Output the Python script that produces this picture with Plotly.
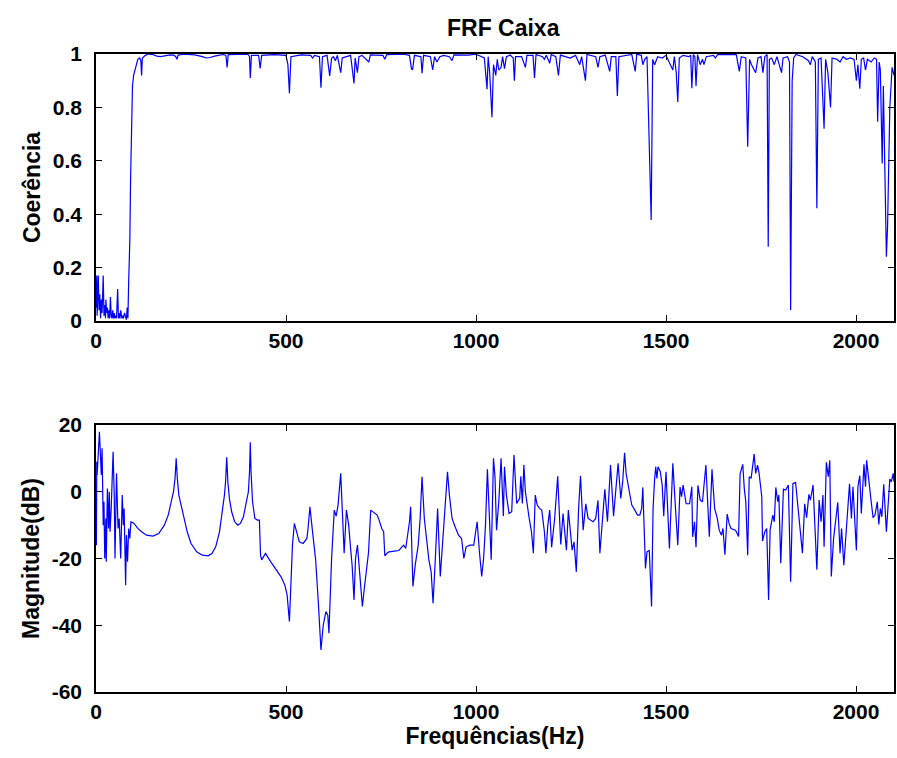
import plotly.graph_objects as go
from plotly.subplots import make_subplots

# ---- Coherence (top) ----
coh_freq = [0, 2, 3, 5, 6, 8, 10, 12, 14, 16, 19, 21, 23, 25, 26, 28, 30, 32, 34, 36, 38, 40, 42, 44, 46, 48, 50, 52, 54, 57, 59, 61, 63, 65, 68, 70, 72, 75, 78, 80, 82, 84,
            86, 88, 89, 91, 93, 94, 96, 99, 102, 106, 110, 115, 118, 120, 122, 130, 137, 150, 160, 170, 180, 195, 205, 210, 213, 216, 230, 260, 280, 290, 300, 315, 335, 342, 345, 348,
            400, 404, 406, 409, 428, 432, 436, 470, 500, 505, 509, 513, 540, 565, 570, 575, 588, 592, 596, 608, 615, 620, 625, 630, 635, 644, 648, 660, 670, 679, 682, 688, 692, 700,
            718, 722, 755, 760, 765, 810, 825, 830, 833, 838, 855, 858, 862, 880, 886, 891, 897, 905, 915, 930, 937, 942, 980, 1000, 1015, 1022, 1029, 1032, 1036, 1042, 1046, 1052,
            1056, 1060, 1066, 1070, 1075, 1080, 1090, 1098, 1101, 1104, 1120, 1130, 1134, 1150, 1154, 1158, 1175, 1180, 1185, 1194, 1198, 1210, 1217, 1222, 1235, 1248, 1262, 1273,
            1278, 1288, 1292, 1315, 1321, 1326, 1340, 1352, 1356, 1368, 1372, 1376, 1410, 1419, 1423, 1435, 1439, 1444, 1450, 1461, 1465, 1470, 1478, 1490, 1500, 1512, 1518, 1522,
            1527, 1531, 1535, 1545, 1560, 1565, 1568, 1572, 1576, 1579, 1583, 1590, 1596, 1600, 1606, 1625, 1630, 1636, 1685, 1693, 1698, 1710, 1715, 1720, 1725, 1736, 1742, 1750,
            1755, 1760, 1766, 1769, 1772, 1778, 1785, 1792, 1804, 1808, 1820, 1825, 1828, 1832, 1836, 1842, 1860, 1875, 1880, 1885, 1893, 1897, 1901, 1908, 1916, 1920, 1926, 1933,
            1937, 1950, 1958, 1966, 1975, 1985, 1995, 2001, 2005, 2010, 2014, 2020, 2025, 2030, 2040, 2048, 2054, 2057, 2061, 2064, 2069, 2072, 2075, 2080, 2083, 2089, 2095, 2100]
coh_vals = [0.05, 0.17, 0.02, 0.12, 0.17, 0.04, 0.10, 0.01, 0.08, 0.03, 0.17, 0.02, 0.06, 0.01, 0.08, 0.03, 0.05, 0.01, 0.04, 0.01, 0.09, 0.02, 0.01, 0.04, 0.01, 0.03, 0.01, 0.02, 0.01, 0.12, 0.01, 0.03, 0.01, 0.04, 0.01, 0.02, 0.01, 0.03, 0.01, 0.005, 0.05, 0.01,
            0.15, 0.22, 0.30, 0.53, 0.66, 0.72, 0.88, 0.92, 0.94, 0.965, 0.98, 0.985, 0.975, 0.92, 0.985, 0.995, 1.0, 0.998, 0.992, 0.99, 0.993, 0.997, 0.996, 0.99, 0.98, 0.996, 0.999, 0.997, 0.99, 0.985, 0.987, 0.993, 0.998, 0.995, 0.95, 0.998,
            0.999, 0.99, 0.91, 0.995, 0.995, 0.946, 0.995, 0.998, 0.995, 0.96, 0.853, 0.99, 0.997, 0.995, 0.985, 0.995, 0.99, 0.874, 0.99, 0.995, 0.918, 0.985, 0.99, 0.975, 0.995, 0.93, 0.985, 0.99, 0.995, 0.89, 0.985, 0.93, 0.99, 0.995,
            0.97, 0.997, 0.995, 0.98, 0.998, 0.999, 0.995, 0.946, 0.94, 0.995, 0.99, 0.928, 0.995, 0.99, 0.94, 0.99, 0.97, 0.99, 0.995, 0.99, 0.975, 0.997, 0.996, 0.999, 0.99, 0.985, 0.868, 0.99, 0.93, 0.763, 0.96, 0.92,
            0.98, 0.94, 0.95, 0.99, 0.945, 0.99, 0.996, 0.985, 0.90, 0.99, 0.99, 0.95, 0.995, 0.995, 0.91, 0.998, 0.99, 0.98, 0.995, 0.965, 0.998, 0.99, 0.92, 0.996, 0.99, 0.985, 0.995, 0.96,
            0.99, 0.90, 0.998, 0.99, 0.95, 0.99, 0.996, 0.935, 0.99, 0.99, 0.843, 0.99, 0.998, 0.935, 0.999, 0.995, 0.96, 0.98, 0.99, 0.378, 0.98, 0.96, 0.99, 0.985, 0.995, 0.96, 0.94, 0.99,
            0.93, 0.82, 0.985, 0.995, 0.99, 0.995, 0.872, 0.998, 0.99, 0.88, 0.998, 0.96, 0.98, 0.96, 0.99, 0.995, 0.985, 0.998, 0.998, 0.935, 0.99, 0.985, 0.653, 0.98, 0.96, 0.93, 0.985, 0.99,
            0.93, 0.99, 0.998, 0.278, 0.98, 0.985, 0.96, 0.99, 0.93, 0.985, 0.99, 0.97, 0.041, 0.90, 0.985, 0.998, 0.99, 0.975, 0.96, 0.99, 0.97, 0.422, 0.98, 0.985, 0.72, 0.98, 0.93, 0.80,
            0.985, 0.98, 0.97, 0.99, 0.98, 0.985, 0.98, 0.90, 0.96, 0.87, 0.98, 0.985, 0.94, 0.98, 0.97, 0.985, 0.98, 0.746, 0.97, 0.94, 0.59, 0.88, 0.65, 0.241, 0.35, 0.80, 0.95, 0.92]

# ---- Magnitude (bottom) ----
mag_freq = [1, 2, 3, 9, 10, 11, 14, 16, 17, 19, 21, 23, 26, 27, 30, 33, 35, 37, 40, 45, 48, 50, 54, 58, 61, 65, 69, 72, 74, 78, 80, 83, 86, 89, 92,
            100, 110, 120, 133, 150, 165, 180, 190, 198, 204, 208, 211, 214, 218, 225, 232, 240, 250, 265, 280, 295, 305, 315, 325, 333, 338, 341, 344, 347, 351, 357, 365, 373, 380, 388, 396,
            401, 404, 406, 408, 412, 418, 425, 430, 433, 436, 446, 460, 475, 487, 497, 503, 509, 513, 517, 522, 528, 535, 545, 555, 558, 563, 568, 578, 585, 592, 598, 605, 610, 613, 620,
            627, 632, 637, 644, 648, 653, 659, 665, 670, 674, 679, 683, 688, 694, 701, 707, 717, 723, 733, 740, 745, 752, 757, 760, 765, 771, 785, 797, 805, 810, 815, 820, 825, 828, 834,
            840, 848, 853, 858, 864, 870, 876, 882, 887, 893, 899, 906, 912, 918, 925, 930, 937, 945, 954, 962, 968, 974, 984, 994, 1000, 1003, 1009, 1015, 1020, 1025, 1030, 1035, 1040,
            1046, 1050, 1054, 1060, 1066, 1072, 1075, 1080, 1087, 1094, 1100, 1107, 1115, 1118, 1122, 1126, 1130, 1134, 1140, 1146, 1151, 1156, 1161, 1167, 1173, 1180, 1184, 1189, 1194,
            1199, 1207, 1215, 1223, 1229, 1238, 1243, 1248, 1253, 1258, 1264, 1270, 1275, 1282, 1289, 1295, 1308, 1315, 1321, 1326, 1333, 1339, 1346, 1354, 1362, 1368, 1374, 1381, 1386,
            1391, 1395, 1404, 1410, 1418, 1425, 1431, 1436, 1439, 1443, 1446, 1450, 1456, 1462, 1466, 1470, 1473, 1476, 1479, 1485, 1490, 1494, 1500, 1509, 1518, 1525, 1531, 1537, 1541,
            1545, 1553, 1562, 1568, 1570, 1575, 1579, 1584, 1590, 1596, 1605, 1614, 1621, 1628, 1635, 1640, 1646, 1650, 1655, 1661, 1666, 1671, 1683, 1691, 1695, 1702, 1706, 1710, 1715,
            1719, 1724, 1728, 1732, 1736, 1741, 1745, 1752, 1754, 1760, 1765, 1770, 1774, 1781, 1785, 1789, 1794, 1797, 1802, 1809, 1815, 1822, 1828, 1834, 1841, 1850, 1859, 1865, 1870,
            1876, 1880, 1887, 1897, 1903, 1908, 1913, 1916, 1922, 1927, 1931, 1935, 1941, 1952, 1958, 1962, 1968, 1975, 1983, 1988, 1992, 2001, 2005, 2010, 2014, 2021, 2025, 2028, 2034,
            2040, 2045, 2050, 2056, 2060, 2064, 2068, 2073, 2080, 2089, 2093, 2098, 2100]
mag_vals = [-16, 9, 5, 18, 14, 17.5, 5, 13, 0, -10, -3, -20, -8, -21, 1, -11, 0, -12, -5, 12, -1, -20, 5.5, -11, -8, -20, -1, -10, -5, -28, -13, -21, -11, -14, -9,
            -9.5, -11, -12, -13, -13.3, -12.5, -10, -7, -3.5, 0, 4, 10, 4, -1, -4.5, -8, -12, -15.5, -18, -19, -19.2, -18.5, -16.5, -12, -6, -1, 3, 10.3, 3, -2, -6, -9, -10, -9.5, -7.5, -3.5,
            0, 6, 14.8, 6, -3, -8, -8.5, -8.5, -19, -20.4, -18.5, -21, -23.5, -25.5, -28, -31, -38.9, -28, -16, -9.5, -12, -15, -15.5, -14, -11, -4.5, -10, -20.4, -33, -47.4, -40, -35.9, -37, -42.4, -20,
            -5.5, -7.3, -4, 5.5, -6, -18.4, -5.5, -10, -17, -22, -32.4, -20, -16, -25, -34.4, -28, -18.4, -5.5, -6.5, -7, -8.5, -11, -12, -19.2, -18.5, -18, -17.8, -17.6, -16.5, -16, -17, -13, -9, -4.5, -28.4,
            -22, -16, -8, 4.5, -8, -14, -20.4, -24, -33.4, -20, -5, -25.4, -15, -5, 6, -1, -8, -10.5, -13, -14, -20, -16.5, -16, -16, -12, -9, -18, -25.4, -20, -10, 6.7, -5, -20.4,
            10, 4.5, -11.5, -3, 10, -7.3, 7.5, -1, -6.5, -6, 11, -3.5, -2, 4.6, -3.5, 8, 0, -3.5, -8, -12, -18.4, -1, -4, -5, -5.5, -12, -18.4, -10, -5.5,
            -16.6, -8, 4.6, -15.8, -6.5, -17.5, -5.5, -12, -17.5, -15, -24, -5, 4.8, -11.5, -3.6, -8, -9, -8, -2.6, -18.4, -8, 0.7, -9, 8, -7.3, 0, 8.5, -2, 3,
            11.7, 5.5, -0.3, -4, -5.5, -7, -7, -5, 1.3, -10, -23, -18, -17.5, -34.4, -5, 3.7, 7.5, 4, 7.5, 6, 2, -7.3, 6, -17, 8.5, -5, -16, 1.4, -1.5,
            2, -3.6, -3.6, 1.5, -13.5, -9, -16.6, 1.9, -2.5, -3, 8, -13.5, 6.7, -5, -8, -11.5, -13, -11, -18.9, -6.7, -9.5, -11, -11.5, -13.4, 5.4, 8.2, 1, -3, -19,
            4.5, 4, 8.5, 11.3, 5.5, 8, 5.5, -1.4, -14.8, -12, -11, -32.4, -11.5, -7, -9, 1.3, -3, -1, -21.4, 0.8, 0.5, 2, -27, 2.4, 2.8, -8, -18.4, -3.6, -7.8,
            -0.8, -2.5, 2, -23.4, -2.5, -9, -1, -16.5, 8.8, 4.5, 9.4, -25.4, -14, -3.2, -18.4, -11, -22, -11, 2.4, -8, 1.5, -17.5, 1.5, 4.8, -6.5, 8.2, 1.5, 9.4, 4,
            -3, -7.8, -7, -3, -9.8, -5, -7.5, 2.2, -12, 3.8, 3, 5.5, 3]

coh_ticks = [0, 0.2, 0.4, 0.6, 0.8, 1]
coh_ticktext = ["0", "0.2", "0.4", "0.6", "0.8", "1"]
mag_ticks = [-60, -40, -20, 0, 20]
mag_ticktext = ["-60", "-40", "-20", "0", "20"]
freq_ticks = [0, 500, 1000, 1500, 2000]

title_text = "FRF Caixa"
ytitle_top = "Coerência"
ytitle_bot = "Magnitude(dB)"
xtitle_bot = "Frequências(Hz)"

FONT = "Liberation Sans"
BLUE = "rgb(0,0,255)"

fig = make_subplots(rows=2, cols=1, vertical_spacing=0.1)
fig.add_trace(go.Scatter(x=coh_freq, y=coh_vals, mode="lines",
                         line=dict(color=BLUE, width=1.2), showlegend=False), row=1, col=1)
fig.add_trace(go.Scatter(x=mag_freq, y=mag_vals, mode="lines",
                         line=dict(color=BLUE, width=1.2), showlegend=False), row=2, col=1)

tickfont = dict(family=FONT, size=21, color="black", weight="bold")
titlefont = dict(family=FONT, size=23, color="black", weight="bold")

axis_common = dict(showline=True, linecolor="black", linewidth=1.5, mirror="ticks",
                   ticks="inside", ticklen=6, tickwidth=1.2, tickcolor="black",
                   showgrid=False, zeroline=False, tickfont=tickfont)

fig.update_xaxes(**axis_common, range=[0, 2100], tickvals=freq_ticks)
fig.update_yaxes(**axis_common, ticklabelstandoff=8)
fig.update_xaxes(domain=[0, 1], row=1, col=1)
fig.update_xaxes(domain=[0, 1], row=2, col=1,
                 title=dict(text=xtitle_bot, font=titlefont, standoff=2))
fig.update_yaxes(domain=[0.5815, 1.0], range=[0, 1], tickvals=coh_ticks, ticktext=coh_ticktext,
                 title=dict(text=ytitle_top, font=titlefont, standoff=6),
                 row=1, col=1)
fig.update_yaxes(domain=[0.0, 0.4185], range=[-60, 20], tickvals=mag_ticks, ticktext=mag_ticktext,
                 title=dict(text=ytitle_bot, font=titlefont, standoff=6),
                 row=2, col=1)

fig.update_layout(
    width=897, height=758,
    margin=dict(l=96, r=1, t=54, b=66),
    paper_bgcolor="white", plot_bgcolor="white",
    title=dict(text=title_text, x=0.561, xanchor="center", y=0.963, yanchor="middle",
               font=titlefont),
)

fig.write_html("out.html")
